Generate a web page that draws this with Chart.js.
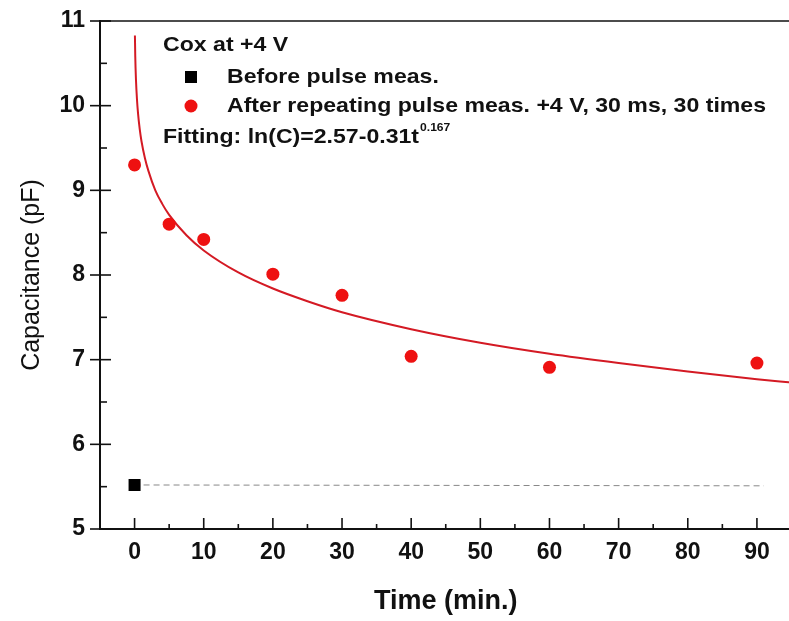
<!DOCTYPE html>
<html><head><meta charset="utf-8">
<script src="https://cdn.jsdelivr.net/npm/chart.js@4.4.0/dist/chart.umd.min.js"></script>
<style>html,body{margin:0;padding:0;background:#fff;overflow:hidden;width:789px;height:621px}</style>
</head><body>
<canvas id="c" width="800" height="621" style="display:block"></canvas>
<script>
// ---- data ----
const timeAfter = [0, 5, 10, 20, 30, 40, 60, 90];
const capAfter  = [9.30, 8.60, 8.42, 8.01, 7.76, 7.04, 6.91, 6.96];
const timeBefore = [0];
const capBefore  = [5.52];
const refLineTime = [1.3, 91];
const refLineCap  = [5.52, 5.51];
const fitTime = [0.05, 0.1, 0.2, 0.35, 0.5, 0.75, 1, 1.5, 2, 3, 4, 5, 7.5, 10, 15, 20, 25, 30, 40, 50, 60, 70, 80, 90, 95];
const fitCap  = [10.83, 10.58, 10.31, 10.07, 9.91, 9.72, 9.58, 9.38, 9.23, 9.00, 8.84, 8.71, 8.47, 8.29, 8.03, 7.84, 7.69, 7.56, 7.36, 7.20, 7.07, 6.96, 6.86, 6.77, 6.73];
const xTickValues = [0, 10, 20, 30, 40, 50, 60, 70, 80, 90];
const yTickValues = [5, 6, 7, 8, 9, 10, 11];
const legendHeader = 'Cox at +4 V';
const legendBefore = 'Before pulse meas.';
const legendAfter = 'After repeating pulse meas. +4 V, 30 ms, 30 times';
const fitLabel = 'Fitting: ln(C)=2.57-0.31t';
const fitExponent = '0.167';

const pts = (xs, ys) => xs.map((v, i) => ({x: v, y: ys[i]}));
const FONT = "'Liberation Sans', Arial, sans-serif";

const decor = {
  id: 'decor',
  afterDraw(chart) {
    const {ctx, chartArea: a, scales: {x, y}} = chart;
    ctx.save();
    ctx.strokeStyle = '#111';
    ctx.lineWidth = 1.6;
    const line = (x1, y1, x2, y2) => { ctx.beginPath(); ctx.moveTo(x1, y1); ctx.lineTo(x2, y2); ctx.stroke(); };
    line(a.left, a.top, a.right, a.top);
    xTickValues.forEach((v, i) => {
      const px = x.getPixelForValue(v);
      line(px, a.bottom, px, a.bottom - 11);
      if (i < xTickValues.length - 1) {
        const mx = x.getPixelForValue((v + xTickValues[i + 1]) / 2);
        line(mx, a.bottom, mx, a.bottom - 5);
      }
    });
    yTickValues.forEach((v, i) => {
      const py = y.getPixelForValue(v);
      line(a.left - 10, py, a.left + 11, py);
      if (i < yTickValues.length - 1) {
        const my = y.getPixelForValue((v + yTickValues[i + 1]) / 2);
        line(a.left, my, a.left + 7, my);
      }
    });
    // legend
    const sx = 1.1;
    const txt = (s, tx, ty, size, weight) => {
      ctx.save();
      ctx.font = `${weight} ${size}px ${FONT}`;
      ctx.fillStyle = '#111';
      ctx.textBaseline = 'middle';
      ctx.translate(tx, ty);
      ctx.scale(sx, 1);
      ctx.fillText(s, 0, 0);
      const w = ctx.measureText(s).width * sx;
      ctx.restore();
      return w;
    };
    txt(legendHeader, 163, 45, 21, 'bold');
    ctx.fillStyle = '#000';
    ctx.fillRect(185, 71, 12, 12);
    txt(legendBefore, 227, 77, 21, 'bold');
    ctx.fillStyle = '#ee1111';
    ctx.beginPath(); ctx.arc(191, 106, 6.5, 0, Math.PI * 2); ctx.fill();
    txt(legendAfter, 227, 106, 21, 'bold');
    const w = txt(fitLabel, 163, 137, 21, 'bold');
    txt(fitExponent, 163 + w + 1, 128, 11, 'bold');
    ctx.restore();
  }
};

new Chart(document.getElementById('c'), {
  type: 'scatter',
  data: {
    datasets: [
      { label: 'fit', data: pts(fitTime, fitCap), showLine: true, borderColor: '#d41a24', borderWidth: 2,
        pointRadius: 0, cubicInterpolationMode: 'monotone', order: 3 },
      { label: 'ref', data: pts(refLineTime, refLineCap), showLine: true, borderColor: '#888', borderWidth: 1,
        borderDash: [6, 4], pointRadius: 0, order: 2 },
      { label: legendBefore, data: pts(timeBefore, capBefore), pointStyle: 'rect', pointRadius: 8.5,
        backgroundColor: '#000', borderColor: '#000', borderWidth: 0, order: 1 },
      { label: legendAfter, data: pts(timeAfter, capAfter), pointStyle: 'circle', pointRadius: 6.5,
        backgroundColor: '#ee1111', borderColor: '#ee1111', borderWidth: 0, order: 0 }
    ]
  },
  options: {
    responsive: false,
    animation: false,
    layout: { padding: { top: 21, right: 7, left: 0, bottom: 0 } },
    plugins: { legend: { display: false }, tooltip: { enabled: false } },
    scales: {
      x: {
        type: 'linear', min: -5, max: 95,
        afterFit: s => { s.height = 92; s.paddingLeft = 0; s.paddingRight = 0; },
        afterBuildTicks: s => { s.ticks = xTickValues.map(v => ({value: v})); },
        grid: { display: false, drawTicks: false },
        border: { display: true, color: '#111', width: 2 },
        ticks: { padding: 10, color: '#111', maxRotation: 0, font: { family: FONT, size: 23, weight: 'bold' } },
        title: { display: true, text: 'Time (min.)', color: '#111', padding: { top: 0, bottom: 3 },
                 font: { family: FONT, size: 27, weight: 'bold' } }
      },
      y: {
        type: 'linear', min: 5, max: 11,
        afterFit: s => { s.width = 100; s.paddingTop = 0; s.paddingBottom = 0; },
        afterBuildTicks: s => { s.ticks = yTickValues.map(v => ({value: v})); },
        grid: { display: false, drawTicks: false },
        border: { display: true, color: '#111', width: 2 },
        ticks: { padding: 15, color: '#111', font: { family: FONT, size: 23, weight: 'bold' } },
        title: { display: true, text: 'Capacitance (pF)', color: '#111', padding: { top: 17, bottom: 0 },
                 font: { family: FONT, size: 25, weight: 'normal' } }
      }
    }
  },
  plugins: [decor]
});
</script>
</body></html>
